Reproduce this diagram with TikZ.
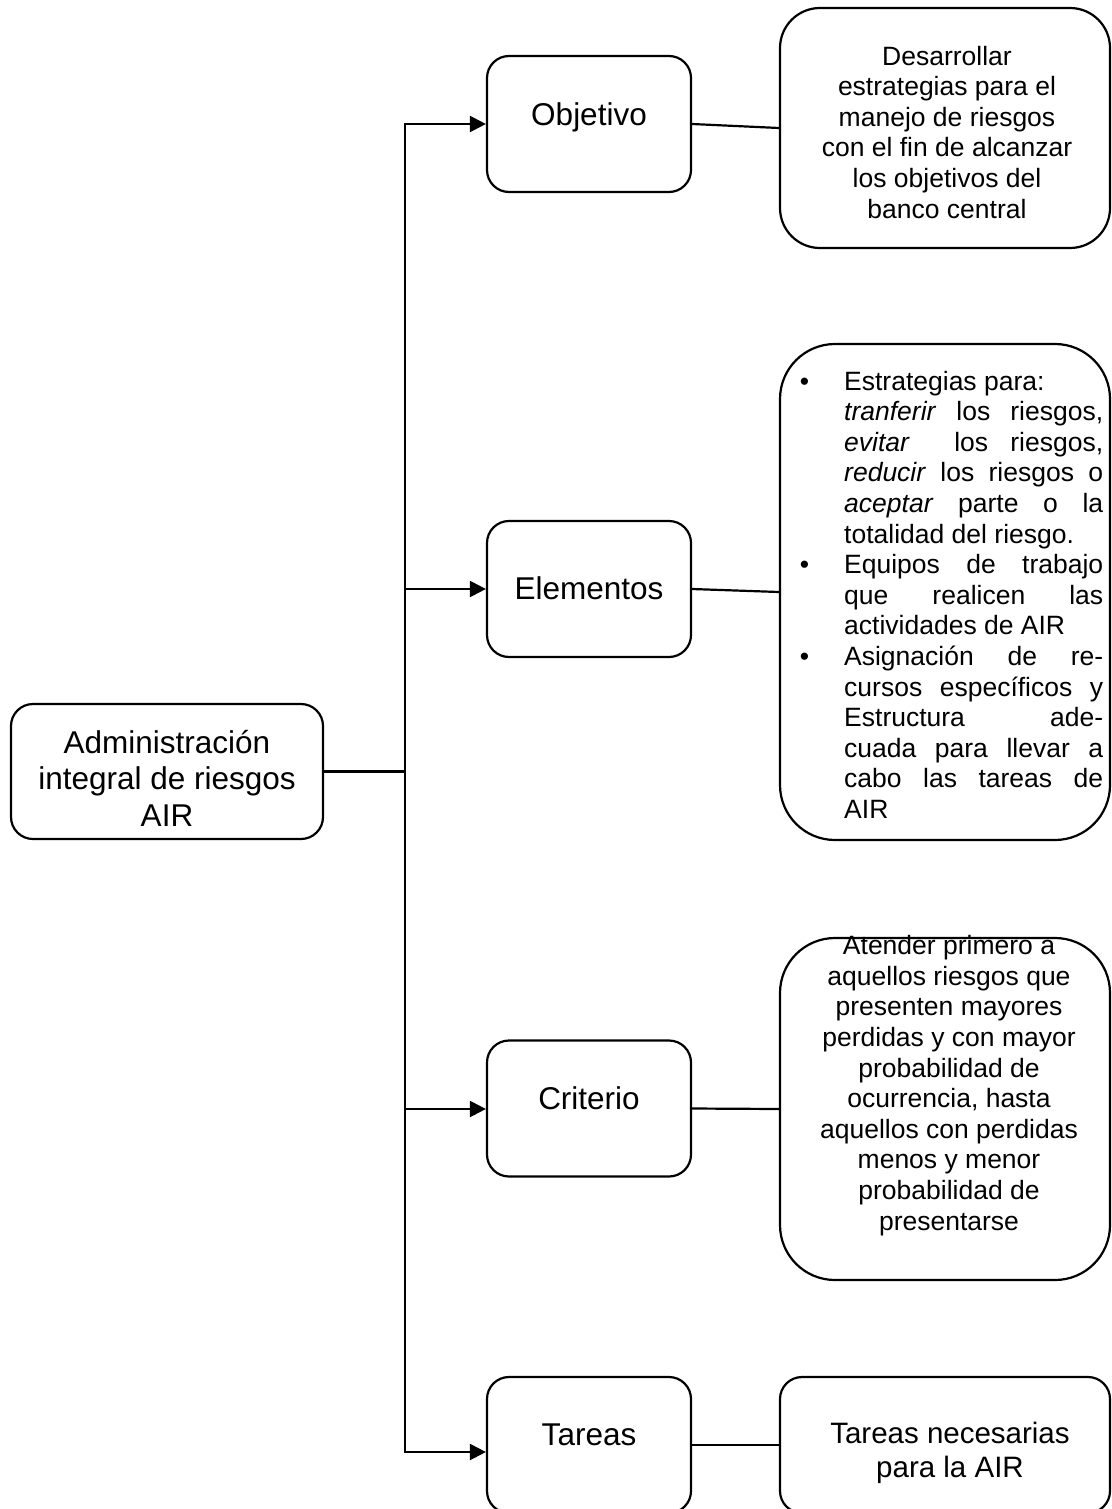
\documentclass[tikz,border=0pt]{standalone}
\usepackage{fontspec}
\setmainfont{Liberation Sans}
\usetikzlibrary{arrows.meta}
\begin{document}
\begin{tikzpicture}[x=1pt,y=-1pt,
  box/.style={draw, line width=2.2pt, inner sep=0pt, rounded corners=#1},
  ln/.style={line width=2.2pt},
  arr/.style={line width=2.2pt, -{Triangle[length=16pt,width=16pt]}},
  midfont/.style={inner sep=0pt, anchor=base, font=\fontsize{31.5pt}{36.5pt}\selectfont},
  rtext/.style={inner sep=0pt, font=\fontsize{26.5pt}{30.6pt}\selectfont}
]
\useasboundingbox (0,0) rectangle (1111,1509);
\fill[white] (0,0) rectangle (1111,1509);

% left box
\node[box=22pt, minimum width=312pt, minimum height=135pt] (air) at (167,771.5) {};
\node[midfont, align=center] (airtext) at (167,826) {Administración\\integral de riesgos\\AIR};

% middle boxes
\node[box=22pt, minimum width=204pt, minimum height=136pt] (obj) at (589,124) {};
\node[midfont] (objtext) at (589,125) {Objetivo};
\node[box=22pt, minimum width=204pt, minimum height=136pt] (ele) at (589,589) {};
\node[midfont] (eletext) at (589,599) {Elementos};
\node[box=22pt, minimum width=204pt, minimum height=136pt] (cri) at (589,1108.5) {};
\node[midfont] (critext) at (589,1109) {Criterio};
\node[box=22pt, minimum width=204pt, minimum height=136pt] (tar) at (589,1445) {};
\node[midfont] (tartext) at (589,1445) {Tareas};

% right boxes
\node[box=40pt, minimum width=330pt, minimum height=240pt] (r1) at (945,128) {};
\node[rtext, anchor=base, align=center] (r1text) at (947,218)
  {Desarrollar\\estrategias para el\\manejo de riesgos\\con el fin de alcanzar\\los objetivos del\\banco central};

\node[box=55pt, minimum width=330pt, minimum height=496pt] (r2) at (945,592) {};
\node[rtext, anchor=base west, text width=259pt, align=justify] (r2text) at (844,390)
  {\tolerance=10000\hbadness=10000
   \noindent\llap{\textbullet\hspace{35pt}}Estrategias para:\newline
   \textit{tranferir} los riesgos,\linebreak
   \textit{evitar}\ \ los riesgos,\linebreak
   \textit{reducir}\ los riesgos o\linebreak
   \textit{aceptar} parte o la\linebreak
   totalidad del riesgo.\par
   \noindent\llap{\textbullet\hspace{35pt}}Equipos de trabajo\linebreak
   que realicen las\linebreak
   actividades de AIR\par
   \noindent\llap{\textbullet\hspace{35pt}}Asignación de re-\linebreak
   cursos específicos y\linebreak
   Estructura ade-\linebreak
   cuada para llevar a\linebreak
   cabo las tareas de\linebreak
   AIR\par};

\node[box=55pt, minimum width=330pt, minimum height=342pt] (r3) at (945,1109) {};
\node[rtext, anchor=base, align=center] (r3text) at (949,1230)
  {Atender primero a\\aquellos riesgos que\\presenten mayores\\perdidas y con mayor\\probabilidad de\\ocurrencia, hasta\\aquellos con perdidas\\menos y menor\\probabilidad de\\presentarse};

\node[box=22pt, minimum width=330pt, minimum height=136pt] (r4) at (945,1445) {};
\node[inner sep=0pt, anchor=base, align=center, font=\fontsize{29.5pt}{34pt}\selectfont] (r4text) at (950,1477)
  {Tareas necesarias\\para la AIR};

% trunk and connectors
\coordinate (t1) at (405,124);
\coordinate (t2) at (405,589);
\coordinate (t3) at (405,1109);
\coordinate (t4) at (405,1452);
\draw[ln, line cap=rect] (t1) -- (t4);
\draw[ln] (air.east) -- (air.east -| t1);
\draw[arr] (t1) -- (t1 -| obj.west);
\draw[arr] (t2) -- (t2 -| ele.west);
\draw[arr] (t3) -- (t3 -| cri.west);
\draw[arr] (t4) -- (t4 -| tar.west);
\draw[ln] (obj.east) -- (r1.west);
\draw[ln] (ele.east) -- (r2.west);
\draw[ln] (cri.east) -- (r3.west);
\draw[ln] (tar.east) -- (r4.west);
\end{tikzpicture}
\end{document}
